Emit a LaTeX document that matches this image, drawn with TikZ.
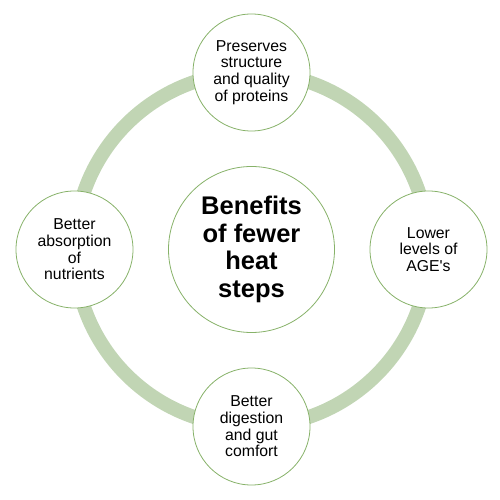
\documentclass[tikz,border=0pt]{standalone}
\usepackage{fontspec}
\setmainfont{Liberation Sans}
\usepackage{tikz}
\usetikzlibrary{positioning,calc}
\usepackage{xcolor}
\definecolor{ringcol}{RGB}{193,213,180}
\definecolor{edgecol}{RGB}{135,178,105}
\tikzset{
  % central circle
  hubnode/.style={circle, draw=edgecol, line width=0.8pt, fill=white, minimum size=166pt,
                  inner sep=0pt, align=center, font=\fontsize{25.5}{27.5}\selectfont\bfseries},
  % benefit circles on the ring
  leafnode/.style={circle, draw=edgecol, line width=0.8pt, fill=white, minimum size=117pt,
                   inner sep=0pt, align=center, font=\fontsize{15.8}{16.7}\selectfont},
  % ring behind the benefit circles
  ringline/.style={draw=ringcol, line width=14pt},
}

\begin{document}
\begin{tikzpicture}[x=1pt, y=1pt]

  \useasboundingbox (-251.5,-250.5) rectangle (248.5,249.5);

  % ═══════ RING ═══════
  \coordinate (mid) at (0,0);
  \draw[ringline] (mid) circle[radius=177pt];

  % ═══════ CENTRE ═══════
  \node[hubnode] (hub) at (mid) {Benefits\\of fewer\\heat\\steps};

  % ═══════ BENEFITS ═══════
  \node[leafnode] (proteins) at (90:177) {Preserves\\structure\\and quality\\of proteins};
  \node[leafnode] (ages) at (0:177) {Lower\\levels of\\AGE\textquotesingle s};
  \node[leafnode] (digestion) at (270:177) {Better\\digestion\\and gut\\comfort};
  \node[leafnode] (absorption) at (180:177) {Better\\absorption\\of\\nutrients};

\end{tikzpicture}
\end{document}
